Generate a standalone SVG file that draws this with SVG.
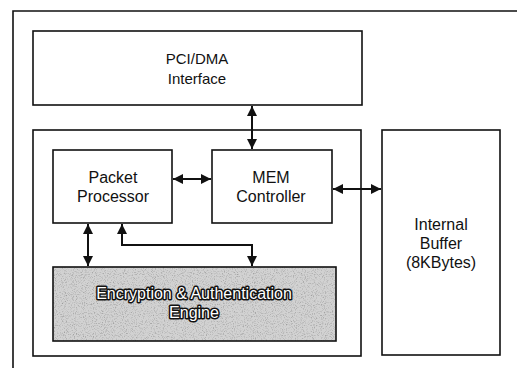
<svg xmlns="http://www.w3.org/2000/svg" width="517" height="368" viewBox="0 0 517 368">
<style>
  .box { fill: #ffffff; stroke: #111; stroke-width: 1.6; }
  .frame { fill: none; stroke: #111; stroke-width: 1.6; }
  .lbl { font-family: "Liberation Sans", Arial, sans-serif; font-size: 16px; fill: #111; text-anchor: middle; }
  .lbl15 { font-size: 15px; }
  .enc { font-family: "Liberation Sans", Arial, sans-serif; font-size: 16px; fill: #fff; stroke: #111; stroke-width: 3; paint-order: stroke; stroke-linejoin: round; text-anchor: middle; }
  .conn { fill: none; stroke: #111; stroke-width: 2; marker-start: url(#ah); marker-end: url(#ah); }
</style>
<defs>
  <marker id="ah" viewBox="0 0 10 10" refX="10" refY="5" markerWidth="10" markerHeight="10" markerUnits="userSpaceOnUse" orient="auto-start-reverse">
    <path d="M0,0 L10,5 L0,10 z" fill="#111"/>
  </marker>
  <filter id="noise" x="0" y="0" width="100%" height="100%">
    <feTurbulence type="fractalNoise" baseFrequency="0.9" numOctaves="2" seed="3" result="t"/>
    <feColorMatrix in="t" type="matrix" values="0 0 0 0 0  0 0 0 0 0  0 0 0 0 0  0 0 0 -1.2 0.62" result="dots"/>
    <feComposite in="dots" in2="SourceGraphic" operator="atop"/>
  </filter>
</defs>
<path class="frame" d="M13,368 V11 H517"/>
<g id="pci">
  <rect class="box" x="33" y="31" width="329" height="74"/>
  <text class="lbl lbl15" x="197" y="64">PCI/DMA</text>
  <text class="lbl lbl15" x="197" y="84">Interface</text>
</g>
<g id="core">
  <rect class="box" x="33" y="130" width="328" height="226"/>
</g>
<g id="packet">
  <rect class="box" x="53" y="150" width="119" height="73"/>
  <text class="lbl" x="113" y="183">Packet</text>
  <text class="lbl" x="113" y="202">Processor</text>
</g>
<g id="mem">
  <rect class="box" x="212" y="150" width="120" height="73"/>
  <text class="lbl" x="271" y="183">MEM</text>
  <text class="lbl" x="271" y="202">Controller</text>
</g>
<g id="buffer">
  <rect class="box" x="382" y="130" width="118" height="225"/>
  <text class="lbl" x="441" y="230">Internal</text>
  <text class="lbl" x="441" y="249">Buffer</text>
  <text class="lbl" x="441" y="268">(8KBytes)</text>
</g>
<g id="engine">
  <rect x="53" y="267" width="283" height="74" fill="#d2d2d2" filter="url(#noise)"/>
  <rect x="53" y="267" width="283" height="74" fill="none" stroke="#111" stroke-width="1.6"/>
  <text class="enc" x="194" y="299">Encryption &amp; Authentication</text>
  <text class="enc" x="194" y="318">Engine</text>
</g>
<g id="connectors">
  <path class="conn" d="M252,106 V149"/>
  <path class="conn" d="M173,179 H211"/>
  <path class="conn" d="M333,189 H381"/>
  <path class="conn" d="M88,224 V266"/>
  <path class="conn" d="M122,224 V245 H252 V266"/>
</g>
</svg>
